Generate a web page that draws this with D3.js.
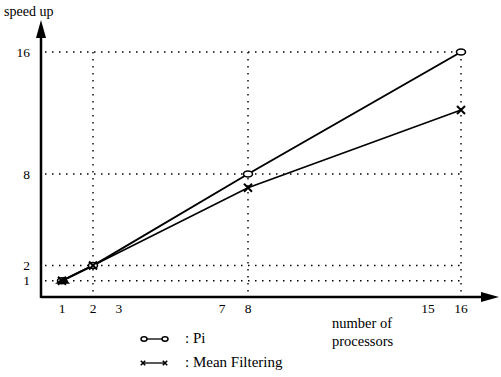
<!DOCTYPE html>
<html>
<head>
<meta charset="utf-8">
<script src="https://cdn.jsdelivr.net/npm/d3@7"></script>
<style>
  body { margin: 0; background: #fff; }
  text { font-family: "Liberation Serif", "DejaVu Serif", serif; fill: #000; }
</style>
</head>
<body>
<svg id="chart" width="501" height="377"></svg>
<script>
// values
const xTicks = [1, 2, 3, 7, 8, 15, 16];
const yTicks = [1, 2, 8, 16];
const gridX = [2, 8, 16];
const piProcs = [1, 2, 8, 16];
const piSpeed = [1, 2, 8, 16];
const meanProcs = [1, 2, 8, 16];
const meanSpeed = [1, 2, 7.1, 12.2];

const svg = d3.select("#chart");
const axisX = 41, axisY = 297;

// the processor axis is hand spaced, so a piecewise scale follows it
const x = d3.scaleLinear().domain([1, 2, 8, 15, 16]).range([62, 93, 248, 428, 461]);
const y = d3.scaleLinear().domain([0, 16]).range([296, 52]);

const piData = piProcs.map((p, i) => ({ p, s: piSpeed[i] }));
const meanData = meanProcs.map((p, i) => ({ p, s: meanSpeed[i] }));

// dotted guides
const grid = svg.append("g").attr("stroke", "#000").attr("stroke-width", 1.4)
  .attr("stroke-dasharray", "1.5,5.5");
grid.selectAll(".h").data(yTicks).join("line")
  .attr("x1", axisX + 4).attr("x2", x(16))
  .attr("y1", d => y(d)).attr("y2", d => y(d));
grid.selectAll(".v").data(gridX).join("line")
  .attr("x1", d => x(d)).attr("x2", d => x(d))
  .attr("y1", y(16)).attr("y2", axisY - 3);

// axes
const ax = svg.append("g");
ax.append("line").attr("x1", axisX).attr("x2", 486).attr("y1", axisY).attr("y2", axisY)
  .attr("stroke", "#000").attr("stroke-width", 2.5);
ax.append("line").attr("x1", axisX).attr("x2", axisX).attr("y1", axisY + 1).attr("y2", 34)
  .attr("stroke", "#000").attr("stroke-width", 2.5);
ax.append("path").attr("d", `M${axisX},20 L${axisX - 5},38 L${axisX + 5},38 Z`);
ax.append("path").attr("d", `M499,${axisY} L481,${axisY - 5} L481,${axisY + 5} Z`);

// tick labels
svg.append("g").selectAll("text").data(xTicks).join("text")
  .attr("x", d => x(d)).attr("y", 313)
  .attr("text-anchor", "middle").attr("font-size", 13.5)
  .text(d => d);
svg.append("g").selectAll("text").data(yTicks).join("text")
  .attr("x", 30).attr("y", d => y(d) + 4.5)
  .attr("text-anchor", "end").attr("font-size", 13.5)
  .text(d => d);

svg.append("text").attr("x", 4).attr("y", 16).attr("font-size", 14).text("speed up");
svg.append("text").attr("x", 332).attr("y", 328).attr("font-size", 14.5).text("number of");
svg.append("text").attr("x", 332).attr("y", 346).attr("font-size", 14.5).text("processors");

// lines
const line = d3.line().x(d => x(d.p)).y(d => y(d.s));
svg.append("path").datum(piData).attr("d", line)
  .attr("fill", "none").attr("stroke", "#000").attr("stroke-width", 2);
svg.append("path").datum(meanData).attr("d", line)
  .attr("fill", "none").attr("stroke", "#000").attr("stroke-width", 1.6);

// markers
function cross(g, cx, cy, r, w) {
  g.append("path")
    .attr("d", `M${cx - r},${cy - r} L${cx + r},${cy + r} M${cx - r},${cy + r} L${cx + r},${cy - r}`)
    .attr("stroke", "#000").attr("stroke-width", w);
}
const mk = svg.append("g");
mk.selectAll("ellipse").data(piData).join("ellipse")
  .attr("cx", d => x(d.p)).attr("cy", d => y(d.s))
  .attr("rx", 4.5).attr("ry", 3)
  .attr("fill", "#fff").attr("stroke", "#000").attr("stroke-width", 1.6);
meanData.forEach(d => cross(mk, x(d.p), y(d.s), 4, 2));
// overlapping start point looks like a filled blob
mk.append("path")
  .attr("d", `M${x(1) - 7},${y(1) + 3} L${x(1) + 8},${y(1) + 3} L${x(1) + 2},${y(1) - 4} Z`)
  .attr("fill", "#000");

// legend
const lg = svg.append("g");
lg.append("line").attr("x1", 146).attr("x2", 163).attr("y1", 339).attr("y2", 339)
  .attr("stroke", "#000").attr("stroke-width", 1.3);
[144, 165].forEach(cx => lg.append("ellipse").attr("cx", cx).attr("cy", 339)
  .attr("rx", 3).attr("ry", 2.2).attr("fill", "#fff")
  .attr("stroke", "#000").attr("stroke-width", 1.5));
lg.append("text").attr("x", 185).attr("y", 343).attr("font-size", 15).text(": Pi");
lg.append("line").attr("x1", 143).attr("x2", 165).attr("y1", 363).attr("y2", 363)
  .attr("stroke", "#000").attr("stroke-width", 1.3);
[143, 165].forEach(cx => cross(lg, cx, 363, 2.2, 1.6));
lg.append("text").attr("x", 185).attr("y", 367).attr("font-size", 15).text(": Mean Filtering");
</script>
</body>
</html>
